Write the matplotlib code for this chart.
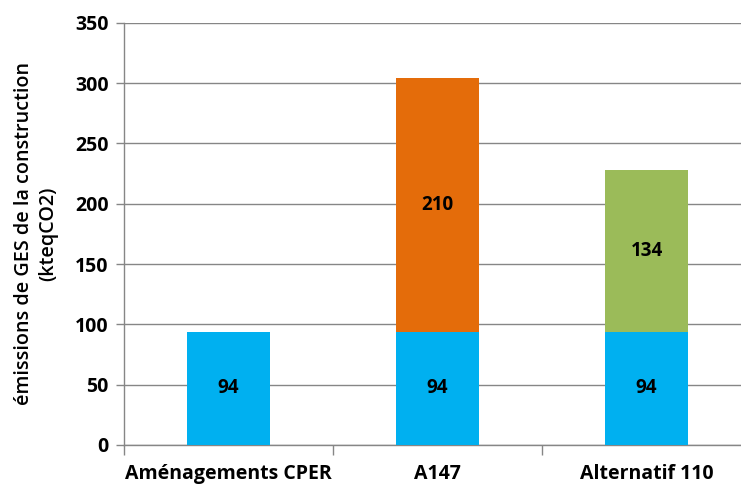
import matplotlib
matplotlib.use("Agg")
import matplotlib.pyplot as plt
import numpy as np

categories = ["Aménagements CPER", "A147", "Alternatif 110"]
base_values = [94, 94, 94]
top_values = [0, 210, 134]
top_colors = ["#E46C0A", "#E46C0A", "#9BBB59"]
yticks = [0, 50, 100, 150, 200, 250, 300, 350]

plt.rcParams["font.family"] = ["Open Sans", "DejaVu Sans"]

fig = plt.figure(figsize=(7.41, 4.84), dpi=100)
ax = fig.add_axes([124 / 741, 39 / 484, 627 / 741, 422.3 / 484])

x = np.arange(len(categories))
width = 0.4
ax.bar(x, base_values, width, color="#00B0F0", zorder=3)
for xi, b, t, c in zip(x, base_values, top_values, top_colors):
    if t:
        ax.bar(xi, t, width, bottom=b, color=c, zorder=3)
        ax.text(xi, b + t / 2, str(t), ha="center", va="center",
                fontsize=13.5, fontweight="bold", color="black", zorder=4)
    ax.text(xi, b / 2, str(b), ha="center", va="center",
            fontsize=13.5, fontweight="bold", color="black", zorder=4)

ax.set_xlim(-0.5, len(categories) - 0.5)
ax.set_ylim(0, 350)
ax.set_yticks(yticks)
ax.set_yticklabels([str(v) for v in yticks], fontsize=14, fontweight="bold")
ax.yaxis.grid(True, color="#868686", linewidth=1.0, zorder=0)

ax.set_xticks(x)
ax.set_xticklabels(categories, fontsize=14, fontweight="bold")
ax.tick_params(axis="x", length=0, pad=14)
ax.set_xticks(np.arange(len(categories) + 1) - 0.5, minor=True)
ax.tick_params(axis="x", which="minor", length=7, width=1, color="#868686")
ax.tick_params(axis="y", length=6, width=1, color="#868686", pad=5)

for side in ["top", "right"]:
    ax.spines[side].set_visible(False)
for side in ["left", "bottom"]:
    ax.spines[side].set_color("#868686")
    ax.spines[side].set_linewidth(1.0)

ax.set_ylabel("émissions de GES de la construction\n(kteqCO2)",
              fontsize=14.2, fontweight="semibold", linespacing=1.3, labelpad=12)

fig.savefig("out.png", dpi=100)
